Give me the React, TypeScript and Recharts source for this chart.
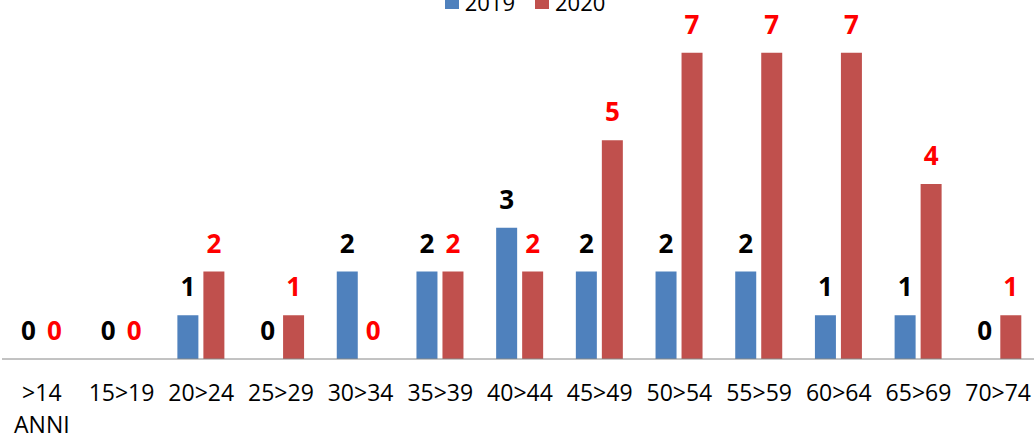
import React from 'react';
import { BarChart, Bar, XAxis, YAxis, LabelList } from 'recharts';

const categories = ['>14 ANNI', '15>19', '20>24', '25>29', '30>34', '35>39', '40>44', '45>49', '50>54', '55>59', '60>64', '65>69', '70>74'];
const values2019 = [0, 0, 1, 0, 2, 2, 3, 2, 2, 2, 1, 1, 0];
const values2020 = [0, 0, 2, 1, 0, 2, 2, 5, 7, 7, 7, 4, 1];

const data = categories.map((name, i) => ({ name, y2019: values2019[i], y2020: values2020[i] }));

const FONT = '"Open Sans", sans-serif';

const AgeTick = ({ x, y, payload }: any) => {
  const parts = String(payload.value).split(' ');
  return (
    <text x={x} y={y} textAnchor="middle" fill="#000" fontFamily={FONT} fontSize={23}>
      {parts.map((p, i) => (
        <tspan key={i} x={x} dy={i === 0 ? 34 : 32}>{p}</tspan>
      ))}
    </text>
  );
};

const TopLegend = () => (
  <div style={{ position: 'absolute', top: -13, left: 0, width: 1040, display: 'flex', justifyContent: 'center', alignItems: 'center', fontFamily: FONT, fontSize: 22, color: '#000', paddingLeft: 10, boxSizing: 'border-box' }}>
    <div style={{ width: 14, height: 14, background: '#4F81BD', marginRight: 6 }} />
    <span style={{ marginRight: 20 }}>2019</span>
    <div style={{ width: 14, height: 14, background: '#C0504D', marginRight: 6 }} />
    <span>2020</span>
  </div>
);

export default function App() {
  return (
    <div style={{ position: 'absolute', left: 0, top: 0, width: 1034, height: 433, overflow: 'hidden', background: '#fff' }}>
      <TopLegend />
      <BarChart width={1040} height={433} data={data} margin={{ top: 9, right: 2, left: 2, bottom: 0 }} barSize={21} barGap={5}>
        <XAxis dataKey="name" height={74} axisLine={{ stroke: '#868686' }} tickLine={false} interval={0} tick={<AgeTick />} />
        <YAxis hide domain={[0, 8]} />
        <Bar dataKey="y2019" fill="#4F81BD" minPointSize={0.01} isAnimationActive={false}>
          <LabelList dataKey="y2019" position="top" offset={19} fill="#000" fontFamily={FONT} fontSize={26} fontWeight="bold" />
        </Bar>
        <Bar dataKey="y2020" fill="#C0504D" minPointSize={0.01} isAnimationActive={false}>
          <LabelList dataKey="y2020" position="top" offset={19} fill="#FF0000" fontFamily={FONT} fontSize={26} fontWeight="bold" />
        </Bar>
      </BarChart>
    </div>
  );
}
